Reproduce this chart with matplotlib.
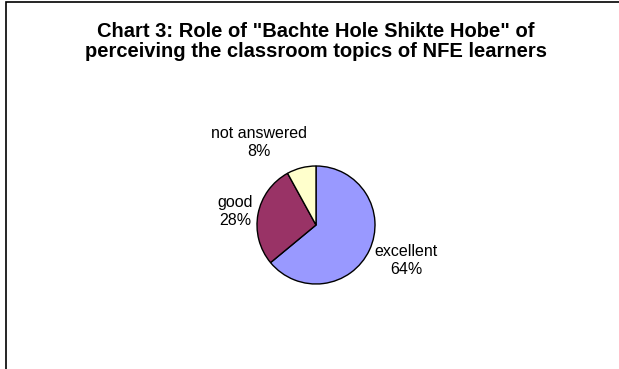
import numpy as np
import matplotlib
matplotlib.use("Agg")
import matplotlib.pyplot as plt
from matplotlib.patches import Rectangle

title_lines = ['Chart 3: Role of "Bachte Hole Shikte Hobe" of',
               'perceiving the classroom topics of NFE learners']
labels = ["excellent", "good", "not answered"]
values = [64, 28, 8]
colors = ["#9999FF", "#993366", "#FFFFCC"]

W, H = 619, 369
fig = plt.figure(figsize=(W / 100, H / 100), dpi=100)
ax = fig.add_axes([0, 0, 1, 1])

# pie in pixel coords (y up)
cx, cy, r = 316, H - 225, 59
wedges, _ = ax.pie(values, colors=colors, startangle=90, counterclock=False,
                   center=(cx, cy), radius=r, frame=True,
                   wedgeprops=dict(edgecolor="black", linewidth=1))
ax.set_xlim(0, W)
ax.set_ylim(0, H)
ax.axis("off")

# label offsets (pixels) from the wedge's outer mid point, Excel-like placement
offsets = {"excellent": (37, -10), "good": (-23, 2), "not answered": (-42, 25)}
for w, lab, v in zip(wedges, labels, values):
    ang = np.deg2rad((w.theta1 + w.theta2) / 2)
    dx, dy = offsets[lab]
    x = cx + r * np.cos(ang) + dx
    y = cy + r * np.sin(ang) + dy
    ax.text(x, y, f"{lab}\n{v}%", ha="center", va="center", fontsize=11.5,
            family="Liberation Sans", linespacing=1.25)

for i, line in enumerate(title_lines):
    fig.text(316 / W, 1 - (37 + 20 * i) / H, line, ha="center", va="baseline",
             fontsize=14.5, fontweight="bold", family="Liberation Sans")

# chart border (right/bottom cut off in the original)
fig.patches.append(Rectangle((6 / W, -0.1), 1.2, (H - 2) / H + 0.1,
                             transform=fig.transFigure, fill=False,
                             edgecolor="black", linewidth=1.2))

fig.savefig("out.png", dpi=100, facecolor="white")
